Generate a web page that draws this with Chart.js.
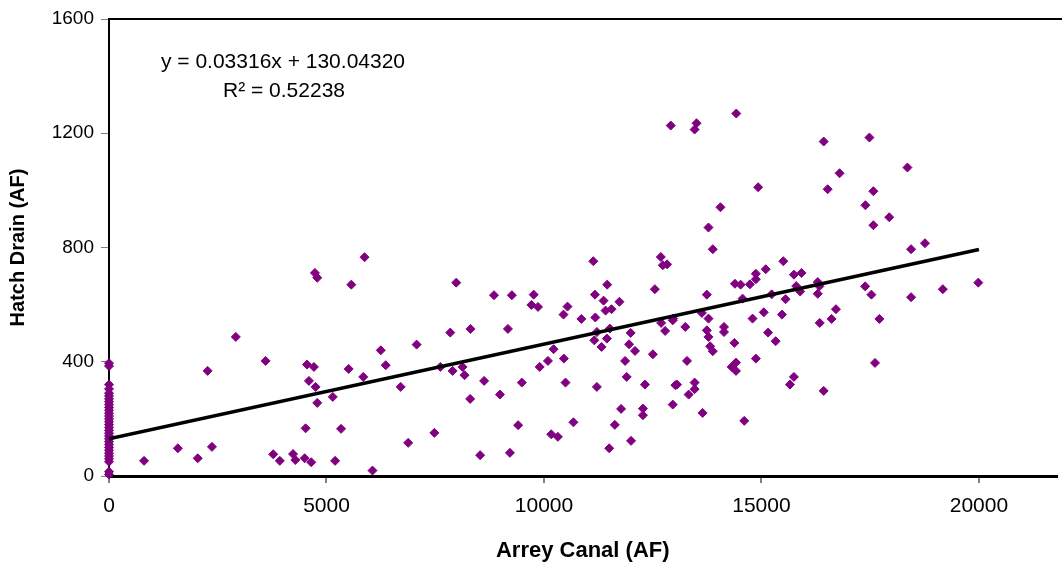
<!DOCTYPE html>
<html>
<head>
<meta charset="utf-8">
<script src="https://cdn.jsdelivr.net/npm/chart.js@4/dist/chart.umd.min.js"></script>
<style>
  html, body { margin: 0; padding: 0; background: #fff; overflow: hidden; }
  #wrap { width: 1062px; height: 566px; }
</style>
</head>
<body>
<div id="wrap"><canvas id="myChart" width="1062" height="566"></canvas></div>
<script>

// section 1# data

let canalAF = [
  0, 0, 0, 0, 0, 0, 0, 0, 0, 0, 0, 0, 0, 0, 0, 0, 0, 0, 0, 0, 0, 0, 0, 0, 0, 0, 0, 0, 0, 0, 0,
  806, 1583, 2040, 2367, 2268, 2915, 3600, 3775, 3927, 4231, 4284, 4498, 4650, 4520, 4551, 4711,
  4597, 4749, 4787, 5145, 5335, 5198, 6058, 5510, 5845, 6248, 6362, 5875, 4734, 4787, 5571,
  7072, 6706, 7618, 7900, 8128, 8174, 8624, 8303, 8988, 9491, 9902, 10091, 10221, 10457, 10495,
  6879, 7481, 8532, 9217, 9406, 10168, 10320, 10677, 11216, 11323, 11865, 11956, 12093, 11902,
  12321, 12503, 13021, 12960, 11773, 11629, 12275, 12275, 11500, 12002,
  13059, 13288, 13463, 13463, 13326, 13646, 13820, 13881, 14377, 14315, 14414, 14414, 14871,
  14605, 15326, 15746, 15655, 16431, 17611,
  7983, 8851, 9262, 9764, 9711, 9863, 7846, 8311, 9171, 11134, 10541, 10449, 10860, 11180,
  11454, 11172, 11370, 11416, 11553, 11735, 12549, 12686, 12732, 12830, 11218, 11157, 11446,
  11514, 11993, 12694, 12785, 12960,
  13881, 13744, 13782, 13630, 13782, 12968, 13249, 13744, 13782, 14139, 14139, 14391, 14521,
  14734, 14566, 14871, 14871, 15098, 15502, 15746, 15920, 15799, 15890, 15235, 15554, 14795,
  15053, 15472, 15152, 16294, 16332, 16294, 16712, 16613, 16340, 17383, 17528, 17711, 18440,
  18759, 18440, 19170, 19985,
  12914, 13508, 13463, 14421, 16431, 17482, 16796, 18356, 16522, 17573, 14924, 14057, 17390,
  17938, 17573
];

let drainAF = [
  5, 15, 50, 60, 70, 80, 90, 100, 110, 120, 130, 140, 150, 160, 170, 180, 190, 200, 210, 220,
  230, 240, 250, 260, 270, 280, 290, 305, 320, 385, 395,
  53, 97, 62, 102, 368, 487, 403, 76, 53, 77, 56, 62, 48, 167, 390, 382,
  333, 312, 256, 277, 165, 53, 19, 375, 347, 440, 388, 766, 711, 694, 670,
  460, 312, 382, 368, 382, 353, 333, 270, 285, 327, 382, 403, 444, 411, 327,
  116, 151, 73, 81, 178, 146, 137, 188, 312, 452, 403, 461, 438, 347,
  320, 426, 318, 250, 235, 179, 236, 213, 97, 123,
  320, 403, 327, 304, 285, 221, 454, 437, 466, 382, 397, 368, 411,
  193, 472, 347, 320, 298, 396,
  677, 633, 633, 635, 599, 592, 502, 515, 515, 752, 593, 565, 550, 555,
  670, 635, 614, 579, 584, 610, 654, 767, 738, 741, 504, 475, 481,
  516, 501, 536, 508, 545,
  794, 635, 870, 571, 551, 551, 522, 510, 487, 522, 504, 673, 670,
  671, 621, 708, 689, 724, 752, 705, 711, 665, 646, 636, 619, 551,
  573, 565, 502, 679, 664, 638, 584, 550, 536, 664, 635, 550, 794,
  815, 626, 654, 677,
  1227, 1235, 1213, 1269, 1171, 1185, 1060, 1080, 1004, 997, 1011, 941, 948,
  906, 878
];

let xTicks = [0, 5000, 10000, 15000, 20000];
let yTicks = [0, 400, 800, 1200, 1600];

// fitted line from the picture's equation
let slope = 0.03316;
let intercept = 130.04320;
let fitEnds = [0, 20000];

let points = canalAF.map(function(v, i){
  return { x: v, y: drainAF[i] };
});
let fitLine = fitEnds.map(function(v){
  return { x: v, y: slope * v + intercept };
});

// section 2# chart

let font = "'Liberation Sans', Arial, sans-serif";
Chart.defaults.font.family = font;
Chart.defaults.color = "#000";

// top border of the plot area + equation text
let extras = {
  id: "extras",
  afterDraw: function(chart){
    let ctx = chart.ctx;
    let a = chart.chartArea;
    ctx.save();
    ctx.strokeStyle = "#000";
    ctx.lineWidth = 2;
    ctx.beginPath();
    ctx.moveTo(a.left - 1, a.top);
    ctx.lineTo(chart.width, a.top);
    ctx.stroke();

    ctx.fillStyle = "#000";
    ctx.font = "21px " + font;
    ctx.textAlign = "center";
    ctx.textBaseline = "middle";
    ctx.fillText("y = 0.03316x + 130.04320", 283, 62);
    ctx.fillText("R\u00B2 = 0.52238", 284, 91);
    ctx.restore();
  }
};

let myChart = document.getElementById("myChart").getContext("2d");

let chart = new Chart(myChart, {
  type: "scatter",
  data: {
    datasets: [
      {
        type: "line",
        data: fitLine,
        borderColor: "#000",
        borderWidth: 3.5,
        pointRadius: 0,
        fill: false
      },
      {
        data: points,
        clip: false,
        pointStyle: "rectRot",
        pointRadius: 4.5,
        pointBorderWidth: 1,
        backgroundColor: "#800080",
        borderColor: "#800080"
      }
    ]
  },
  options: {
    responsive: false,
    animation: false,
    events: [],
    layout: { padding: { top: 19, right: 0, left: 0, bottom: 0 } },
    plugins: {
      legend: { display: false },
      tooltip: { enabled: false }
    },
    scales: {
      x: {
        type: "linear",
        min: 0,
        max: 21783,
        afterBuildTicks: function(scale){
          scale.ticks = xTicks.map(function(v){ return { value: v }; });
        },
        afterFit: function(scale){ scale.height = 90; },
        border: { color: "#000", width: 3 },
        grid: { drawOnChartArea: false, drawTicks: true, tickLength: 7, color: "#808080", lineWidth: 2 },
        ticks: {
          font: { size: 21 },
          padding: 11,
          maxRotation: 0,
          callback: function(v){ return String(v); }
        },
        title: {
          display: true,
          text: "Arrey Canal (AF)",
          font: { size: 22, weight: "bold" },
          padding: { top: 0, bottom: 2 }
        }
      },
      y: {
        min: 0,
        max: 1600,
        afterBuildTicks: function(scale){
          scale.ticks = yTicks.map(function(v){ return { value: v }; });
        },
        afterFit: function(scale){ scale.width = 109; },
        border: { color: "#000", width: 2 },
        grid: { drawOnChartArea: false, drawTicks: true, tickLength: 8, color: "#808080", lineWidth: 1 },
        ticks: {
          font: { size: 19 },
          padding: 7,
          callback: function(v){ return String(v); }
        },
        title: {
          display: true,
          text: "Hatch Drain (AF)",
          font: { size: 20, weight: "bold" },
          padding: { top: 6, bottom: 0 }
        }
      }
    }
  },
  plugins: [extras]
});

</script>
</body>
</html>
